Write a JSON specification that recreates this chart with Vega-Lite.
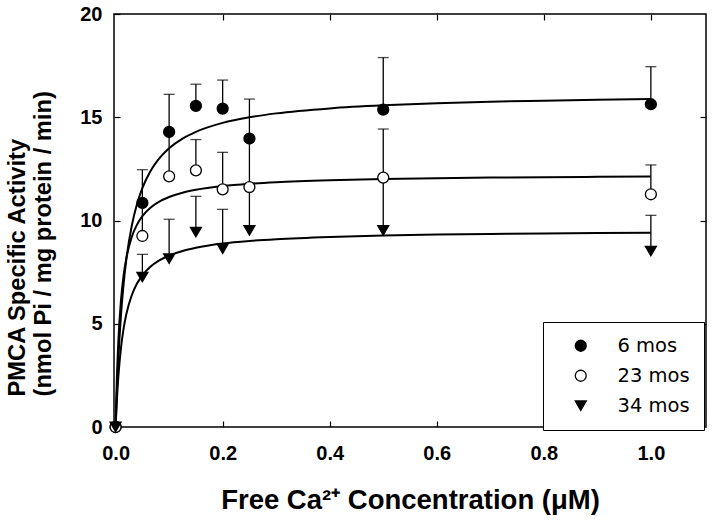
{
  "$schema": "https://vega.github.io/schema/vega-lite/v6.json",
  "width": 592,
  "height": 413,
  "autosize": {"type": "none"},
  "padding": {"left": 114, "top": 14, "right": 8, "bottom": 99},
  "background": "white",
  "config": {
    "view": {"stroke": "black", "strokeWidth": 1.5},
    "font": "Liberation Sans",
    "axis": {
      "domain": false,
      "grid": false,
      "ticks": true,
      "tickColor": "black",
      "tickWidth": 1.2,
      "tickSize": -6,
      "labelFlush": false,
      "labelFont": "Liberation Sans",
      "labelFontWeight": "bold",
      "labelFontSize": 20,
      "labelColor": "black",
      "titleFont": "Liberation Sans",
      "titleFontWeight": "bold",
      "titleColor": "black"
    },
    "legend": {
      "orient": "none",
      "legendX": 429,
      "legendY": 308,
      "strokeColor": "black",
      "fillColor": "white",
      "padding": 14,
      "title": null,
      "labelFont": "DejaVu Sans",
      "labelFontSize": 19.5,
      "labelColor": "black",
      "symbolSize": 120,
      "symbolOffset": 14,
      "labelOffset": 27,
      "rowPadding": 9,
      "symbolStrokeWidth": 1.3
    }
  },
  "datasets": {
    "points": [
      {"conc": 0, "activity": 0, "upper": null, "group": "6 mos"},
      {"conc": 0.05, "activity": 10.85, "upper": 12.46, "group": "6 mos"},
      {"conc": 0.1, "activity": 14.29, "upper": 16.11, "group": "6 mos"},
      {"conc": 0.15, "activity": 15.55, "upper": 16.6, "group": "6 mos"},
      {"conc": 0.2, "activity": 15.42, "upper": 16.8, "group": "6 mos"},
      {"conc": 0.25, "activity": 13.97, "upper": 15.88, "group": "6 mos"},
      {"conc": 0.5, "activity": 15.37, "upper": 17.89, "group": "6 mos"},
      {"conc": 1.0, "activity": 15.63, "upper": 17.45, "group": "6 mos"},
      {"conc": 0, "activity": 0, "upper": null, "group": "23 mos"},
      {"conc": 0.05, "activity": 9.25, "upper": 10.8, "group": "23 mos"},
      {"conc": 0.1, "activity": 12.14, "upper": 14.2, "group": "23 mos"},
      {"conc": 0.15, "activity": 12.43, "upper": 13.92, "group": "23 mos"},
      {"conc": 0.2, "activity": 11.51, "upper": 13.3, "group": "23 mos"},
      {"conc": 0.25, "activity": 11.62, "upper": 13.9, "group": "23 mos"},
      {"conc": 0.5, "activity": 12.08, "upper": 14.43, "group": "23 mos"},
      {"conc": 1.0, "activity": 11.27, "upper": 12.69, "group": "23 mos"},
      {"conc": 0, "activity": 0, "upper": null, "group": "34 mos"},
      {"conc": 0.05, "activity": 7.26, "upper": 8.36, "group": "34 mos"},
      {"conc": 0.1, "activity": 8.15, "upper": 10.06, "group": "34 mos"},
      {"conc": 0.15, "activity": 9.44, "upper": 11.17, "group": "34 mos"},
      {"conc": 0.2, "activity": 8.64, "upper": 10.54, "group": "34 mos"},
      {"conc": 0.25, "activity": 9.52, "upper": 11.6, "group": "34 mos"},
      {"conc": 0.5, "activity": 9.52, "upper": 12.0, "group": "34 mos"},
      {"conc": 1.0, "activity": 8.52, "upper": 10.25, "group": "34 mos"}
    ],
    "curves": [
      {"conc": 0, "activity": 0, "group": "6 mos"},
      {"conc": 0.002, "activity": 1.473, "group": "6 mos"},
      {"conc": 0.005, "activity": 3.24, "group": "6 mos"},
      {"conc": 0.01, "activity": 5.4, "group": "6 mos"},
      {"conc": 0.015, "activity": 6.943, "group": "6 mos"},
      {"conc": 0.02, "activity": 8.1, "group": "6 mos"},
      {"conc": 0.03, "activity": 9.72, "group": "6 mos"},
      {"conc": 0.04, "activity": 10.8, "group": "6 mos"},
      {"conc": 0.05, "activity": 11.571, "group": "6 mos"},
      {"conc": 0.065, "activity": 12.388, "group": "6 mos"},
      {"conc": 0.08, "activity": 12.96, "group": "6 mos"},
      {"conc": 0.1, "activity": 13.5, "group": "6 mos"},
      {"conc": 0.125, "activity": 13.966, "group": "6 mos"},
      {"conc": 0.15, "activity": 14.294, "group": "6 mos"},
      {"conc": 0.2, "activity": 14.727, "group": "6 mos"},
      {"conc": 0.25, "activity": 15.0, "group": "6 mos"},
      {"conc": 0.3, "activity": 15.188, "group": "6 mos"},
      {"conc": 0.4, "activity": 15.429, "group": "6 mos"},
      {"conc": 0.5, "activity": 15.577, "group": "6 mos"},
      {"conc": 0.6, "activity": 15.677, "group": "6 mos"},
      {"conc": 0.7, "activity": 15.75, "group": "6 mos"},
      {"conc": 0.8, "activity": 15.805, "group": "6 mos"},
      {"conc": 0.9, "activity": 15.848, "group": "6 mos"},
      {"conc": 1.0, "activity": 15.882, "group": "6 mos"},
      {"conc": 0, "activity": 0, "group": "23 mos"},
      {"conc": 0.002, "activity": 2.042, "group": "23 mos"},
      {"conc": 0.005, "activity": 4.083, "group": "23 mos"},
      {"conc": 0.01, "activity": 6.125, "group": "23 mos"},
      {"conc": 0.015, "activity": 7.35, "group": "23 mos"},
      {"conc": 0.02, "activity": 8.167, "group": "23 mos"},
      {"conc": 0.03, "activity": 9.188, "group": "23 mos"},
      {"conc": 0.04, "activity": 9.8, "group": "23 mos"},
      {"conc": 0.05, "activity": 10.208, "group": "23 mos"},
      {"conc": 0.065, "activity": 10.617, "group": "23 mos"},
      {"conc": 0.08, "activity": 10.889, "group": "23 mos"},
      {"conc": 0.1, "activity": 11.136, "group": "23 mos"},
      {"conc": 0.125, "activity": 11.343, "group": "23 mos"},
      {"conc": 0.15, "activity": 11.484, "group": "23 mos"},
      {"conc": 0.2, "activity": 11.667, "group": "23 mos"},
      {"conc": 0.25, "activity": 11.779, "group": "23 mos"},
      {"conc": 0.3, "activity": 11.855, "group": "23 mos"},
      {"conc": 0.4, "activity": 11.951, "group": "23 mos"},
      {"conc": 0.5, "activity": 12.01, "group": "23 mos"},
      {"conc": 0.6, "activity": 12.049, "group": "23 mos"},
      {"conc": 0.7, "activity": 12.077, "group": "23 mos"},
      {"conc": 0.8, "activity": 12.099, "group": "23 mos"},
      {"conc": 0.9, "activity": 12.115, "group": "23 mos"},
      {"conc": 1.0, "activity": 12.129, "group": "23 mos"},
      {"conc": 0, "activity": 0, "group": "34 mos"},
      {"conc": 0.002, "activity": 1.124, "group": "34 mos"},
      {"conc": 0.005, "activity": 2.388, "group": "34 mos"},
      {"conc": 0.01, "activity": 3.82, "group": "34 mos"},
      {"conc": 0.015, "activity": 4.775, "group": "34 mos"},
      {"conc": 0.02, "activity": 5.457, "group": "34 mos"},
      {"conc": 0.03, "activity": 6.367, "group": "34 mos"},
      {"conc": 0.04, "activity": 6.945, "group": "34 mos"},
      {"conc": 0.05, "activity": 7.346, "group": "34 mos"},
      {"conc": 0.065, "activity": 7.759, "group": "34 mos"},
      {"conc": 0.08, "activity": 8.042, "group": "34 mos"},
      {"conc": 0.1, "activity": 8.304, "group": "34 mos"},
      {"conc": 0.125, "activity": 8.527, "group": "34 mos"},
      {"conc": 0.15, "activity": 8.682, "group": "34 mos"},
      {"conc": 0.2, "activity": 8.884, "group": "34 mos"},
      {"conc": 0.25, "activity": 9.009, "group": "34 mos"},
      {"conc": 0.3, "activity": 9.095, "group": "34 mos"},
      {"conc": 0.4, "activity": 9.205, "group": "34 mos"},
      {"conc": 0.5, "activity": 9.272, "group": "34 mos"},
      {"conc": 0.6, "activity": 9.317, "group": "34 mos"},
      {"conc": 0.7, "activity": 9.35, "group": "34 mos"},
      {"conc": 0.8, "activity": 9.374, "group": "34 mos"},
      {"conc": 0.9, "activity": 9.393, "group": "34 mos"},
      {"conc": 1.0, "activity": 9.409, "group": "34 mos"}
    ]
  },
  "layer": [
    {
      "data": {"name": "curves"},
      "mark": {"type": "line", "color": "black", "strokeWidth": 2, "interpolate": "monotone"},
      "encoding": {
        "x": {
          "field": "conc", "type": "quantitative",
          "scale": {"domain": [-0.003, 1.103], "nice": false, "zero": false},
          "axis": {
            "orient": "bottom",
            "values": [0, 0.2, 0.4, 0.6, 0.8, 1.0],
            "format": ".1f",
            "labelPadding": 22,
            "title": "Free Ca²⁺ Concentration (μM)",
            "titleFontSize": 27.5,
            "titlePadding": 23
          }
        },
        "y": {
          "field": "activity", "type": "quantitative",
          "scale": {"domain": [0, 20], "nice": false},
          "axis": {
            "orient": "left",
            "values": [0, 5, 10, 15, 20],
            "format": "d",
            "labelPadding": 18,
            "title": ["PMCA Specific Activity", "(nmol Pi / mg protein / min)"],
            "titleFontSize": 23.7,
            "titleLineHeight": 26,
            "titlePadding": 24,
            "titleAlign": "left",
            "titleY": 382
          }
        },
        "detail": {"field": "group", "type": "nominal"}
      }
    },
    {
      "data": {"name": "points"},
      "mark": {"type": "rule", "color": "black", "strokeWidth": 1.3},
      "encoding": {
        "x": {"field": "conc", "type": "quantitative", "axis": null},
        "y": {"field": "activity", "type": "quantitative", "axis": null},
        "y2": {"field": "upper"}
      }
    },
    {
      "data": {"name": "points"},
      "transform": [{"filter": "datum.upper != null"}],
      "mark": {"type": "tick", "orient": "horizontal", "color": "black", "size": 11, "thickness": 1.3},
      "encoding": {
        "x": {
          "field": "conc", "type": "quantitative",
          "axis": {"orient": "top", "values": [0.2, 0.4, 0.6, 0.8, 1.0], "labels": false, "title": null}
        },
        "y": {
          "field": "upper", "type": "quantitative",
          "axis": {"orient": "right", "values": [5, 10, 15], "labels": false, "title": null}
        }
      }
    },
    {
      "data": {"name": "points"},
      "mark": {"type": "point", "filled": true, "strokeWidth": 1.3, "opacity": 1, "size": 120},
      "encoding": {
        "x": {"field": "conc", "type": "quantitative", "axis": null},
        "y": {"field": "activity", "type": "quantitative", "axis": null},
        "shape": {
          "field": "group", "type": "nominal",
          "scale": {"domain": ["6 mos", "23 mos", "34 mos"], "range": ["circle", "circle", "triangle-down"]}
        },
        "fill": {
          "field": "group", "type": "nominal",
          "scale": {"domain": ["6 mos", "23 mos", "34 mos"], "range": ["black", "white", "black"]}
        },
        "stroke": {
          "field": "group", "type": "nominal",
          "scale": {"domain": ["6 mos", "23 mos", "34 mos"], "range": ["black", "black", "black"]}
        }
      }
    }
  ]
}
